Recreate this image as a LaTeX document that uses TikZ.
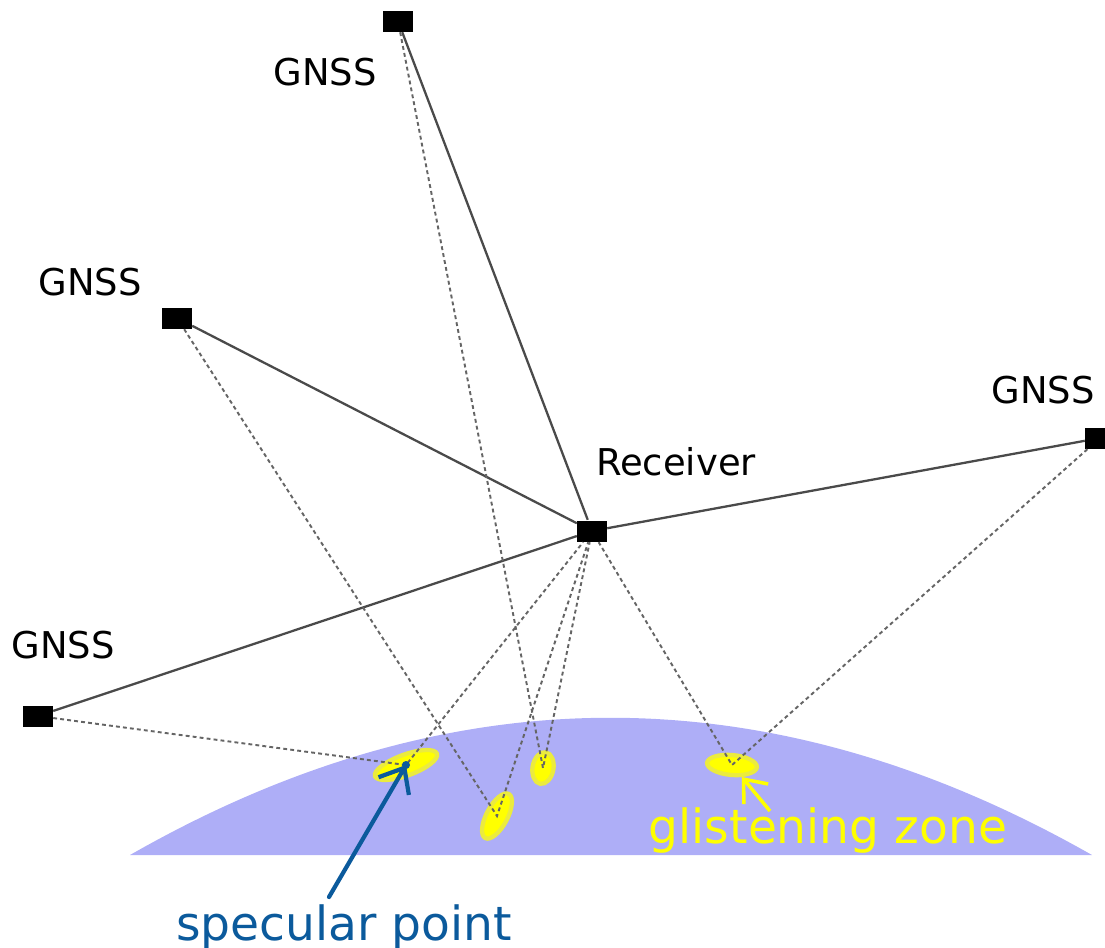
\documentclass[tikz,border=0pt]{standalone}
\usepackage{fontspec}
\setmainfont{DejaVu Sans}
\usetikzlibrary{shapes.geometric,arrows.meta}
\definecolor{SeaBlue}{HTML}{AEAEF7}
\definecolor{GlintYellow}{HTML}{FFFF00}
\definecolor{SpecBlue}{HTML}{0B5A9C}
\definecolor{RayGray}{HTML}{4A4A4A}

\begin{document}
\begin{tikzpicture}[x=0.01cm,y=-0.01cm,
        sat/.style={fill=black,inner sep=0pt,minimum width=0.29cm,minimum height=0.21cm},
        glint/.style={ellipse,fill=GlintYellow,draw=GlintYellow!75!SeaBlue,line width=1.2pt,inner sep=0pt},
        direct/.style={RayGray,line width=0.65pt},
        reflect/.style={RayGray!85,line width=0.55pt,dash pattern=on 1.1pt off 0.9pt},
        lbl/.style={anchor=base,font=\fontsize{10.5}{12}\selectfont,inner sep=1pt},
        callout/.style={anchor=base,font=\fontsize{13.4}{15}\selectfont,inner sep=0pt}]
        \useasboundingbox (0,0) rectangle (1105,947);
        \fill[SeaBlue] (130,855) .. controls (450,672) and (770,672) .. (1092,855) -- cycle;
        \node[glint,minimum width=0.66cm,minimum height=0.21cm,rotate=20] (ga) at (406,765) {};
        \node[glint,minimum width=0.5cm,minimum height=0.21cm,rotate=62] (gb) at (497,816) {};
        \node[glint,minimum width=0.32cm,minimum height=0.21cm,rotate=80] (gc) at (543,768) {};
        \node[glint,minimum width=0.5cm,minimum height=0.2cm,rotate=-5] (gd) at (732,765) {};
        \node[sat] (sa) at (398,21) {};
        \node[sat] (sb) at (177,318) {};
        \node[sat] (sc) at (1100,438) {};
        \node[sat] (sd) at (38,716) {};
        \node[sat] (rx) at (592,531) {};
        \foreach \s in {sa,sb,sc,sd} {
          \draw[direct] (\s) -- (rx);
        }
        \foreach \s/\g in {sa/gc,sb/gb,sc/gd,sd/ga} {
          \draw[reflect] (\s) -- (\g.center) -- (rx);
        }
        \node[lbl] (la) at (325,85) {GNSS};
        \node[lbl] (lb) at (90,295) {GNSS};
        \node[lbl] (lc) at (1043,403) {GNSS};
        \node[lbl] (ld) at (63,658) {GNSS};
        \node[lbl] (lr) at (676,475) {Receiver};
        \node[callout,text=SpecBlue] (spec) at (344,940) {specular point};
        \node[callout,text=GlintYellow] (zone) at (828,843) {glistening zone};
        \coordinate (spectail) at (329,897);
        \coordinate (zonetail) at (770,811);
        \draw[SpecBlue,line width=1.2pt,line cap=round,-{Straight Barb[length=6pt,width=10pt]}] (spectail) -- (ga.center);
        \fill[SpecBlue] (ga.center) circle (4);
        \draw[GlintYellow,line width=1pt,-{Straight Barb[length=5.5pt,width=9pt]}] (zonetail) -- (gd);
      \end{tikzpicture}
\end{document}
